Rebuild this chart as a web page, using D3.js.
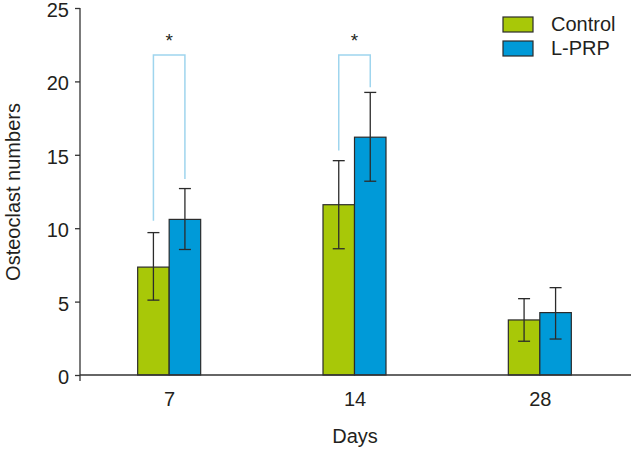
<!DOCTYPE html>
<html>
<head>
<meta charset="utf-8">
<script src="https://cdn.jsdelivr.net/npm/d3@7"></script>
<style>
  body { margin: 0; background: #fff; }
  text { font-family: "Liberation Sans", Arial, sans-serif; fill: #231f20; }
</style>
</head>
<body>
<div id="chart"></div>
<script>
const days = ["7", "14", "28"];
const groups = ["Control", "L-PRP"];
const controlMean = [7.35, 11.6, 3.75];
const controlLow = [5.1, 8.6, 2.3];
const controlHigh = [9.7, 14.6, 5.2];
const prpMean = [10.6, 16.2, 4.25];
const prpLow = [8.55, 13.2, 2.45];
const prpHigh = [12.7, 19.25, 5.95];
// significance brackets: day, left leg end, right leg end, top
const sigDays = ["7", "14"];
const sigLeft = [10.5, 15.3];
const sigRight = [13.35, 19.6];
const sigTop = 21.8;
const yTicks = [0, 5, 10, 15, 20, 25];

const width = 633, height = 450;
const colors = { "Control": "#a8c808", "L-PRP": "#009ad8" };

const svg = d3.select("#chart").append("svg")
    .attr("width", width)
    .attr("height", height);

const x = d3.scaleBand().domain(days).range([77, 633]);
const xs = d3.scaleBand().domain(groups).range([0, 63]);
const y = d3.scaleLinear().domain([0, 25]).range([375, 8]);

const rows = days.map((d, i) => [
    { day: d, group: "Control", v: controlMean[i], lo: controlLow[i], hi: controlHigh[i] },
    { day: d, group: "L-PRP", v: prpMean[i], lo: prpLow[i], hi: prpHigh[i] }
]).flat();

const barX = d => x(d.day) + x.bandwidth() / 2 - 32 + xs(d.group);

// bars
svg.selectAll(".bar")
    .data(rows)
    .enter().append("rect")
    .attr("x", barX)
    .attr("y", d => y(d.v))
    .attr("width", xs.bandwidth())
    .attr("height", d => y(0) - y(d.v))
    .style("fill", d => colors[d.group])
    .style("stroke", "#2b2b2b")
    .style("stroke-width", 1.2);

// error bars
const err = svg.selectAll(".err")
    .data(rows)
    .enter().append("g")
    .attr("transform", d => `translate(${barX(d) + xs.bandwidth() / 2},0)`)
    .style("stroke", "#2b2b2b")
    .style("stroke-width", 1.3);
err.append("line").attr("y1", d => y(d.lo)).attr("y2", d => y(d.hi));
err.append("line").attr("x1", -6).attr("x2", 6).attr("y1", d => y(d.lo)).attr("y2", d => y(d.lo));
err.append("line").attr("x1", -6).attr("x2", 6).attr("y1", d => y(d.hi)).attr("y2", d => y(d.hi));

// significance brackets
sigDays.forEach((d, i) => {
    const xl = barX({ day: d, group: "Control" }) + xs.bandwidth() / 2;
    const xr = barX({ day: d, group: "L-PRP" }) + xs.bandwidth() / 2;
    svg.append("path")
        .attr("d", `M${xl},${y(sigLeft[i])}V${y(sigTop)}H${xr}V${y(sigRight[i])}`)
        .style("fill", "none")
        .style("stroke", "#9fd5ee")
        .style("stroke-width", 1.5);
    svg.append("text")
        .attr("x", (xl + xr) / 2)
        .attr("y", y(sigTop) - 8)
        .attr("text-anchor", "middle")
        .style("font-size", "19px")
        .text("*");
});

// y axis
const yAxis = svg.append("g")
    .attr("transform", "translate(80,0)")
    .call(d3.axisLeft(y).tickValues(yTicks).tickSize(5).tickPadding(6));
yAxis.select(".domain").attr("d", `M0,${y(25)}V${y(0) + 6}`);
yAxis.selectAll(".tick text").attr("dy", "0.42em");

// x axis
const xAxis = svg.append("g")
    .attr("transform", `translate(0,${y(0)})`)
    .call(d3.axisBottom(x).tickSize(0).tickPadding(17));
xAxis.select(".domain").attr("d", `M80,0H631`);
xAxis.selectAll(".sep")
    .data(days.map(d => Math.min(x(d) + x.bandwidth(), 631)))
    .enter().append("line")
    .attr("x1", d => d).attr("x2", d => d)
    .attr("y1", 0).attr("y2", 6);

svg.selectAll(".domain, .tick line, .sep")
    .style("stroke", "#333")
    .style("stroke-width", 1.3);
svg.selectAll(".tick text")
    .style("font-size", "20px")
    .style("fill", "#231f20")
    .style("font-family", "'Liberation Sans', Arial, sans-serif");

// axis titles
svg.append("text")
    .attr("x", x("14") + x.bandwidth() / 2)
    .attr("y", 443)
    .attr("text-anchor", "middle")
    .style("font-size", "20px")
    .text("Days");
svg.append("text")
    .attr("transform", "translate(20,192) rotate(-90)")
    .attr("text-anchor", "middle")
    .style("font-size", "20px")
    .text("Osteoclast numbers");

// legend
const legend = svg.selectAll(".legend")
    .data(groups)
    .enter().append("g")
    .attr("transform", (d, i) => `translate(503,${17 + i * 24})`);
legend.append("rect")
    .attr("width", 30)
    .attr("height", 15)
    .style("fill", d => colors[d])
    .style("stroke", "#2b2b2b")
    .style("stroke-width", 1.2);
legend.append("text")
    .attr("x", 48)
    .attr("y", 14)
    .style("font-size", "20px")
    .text(d => d);
</script>
</body>
</html>
